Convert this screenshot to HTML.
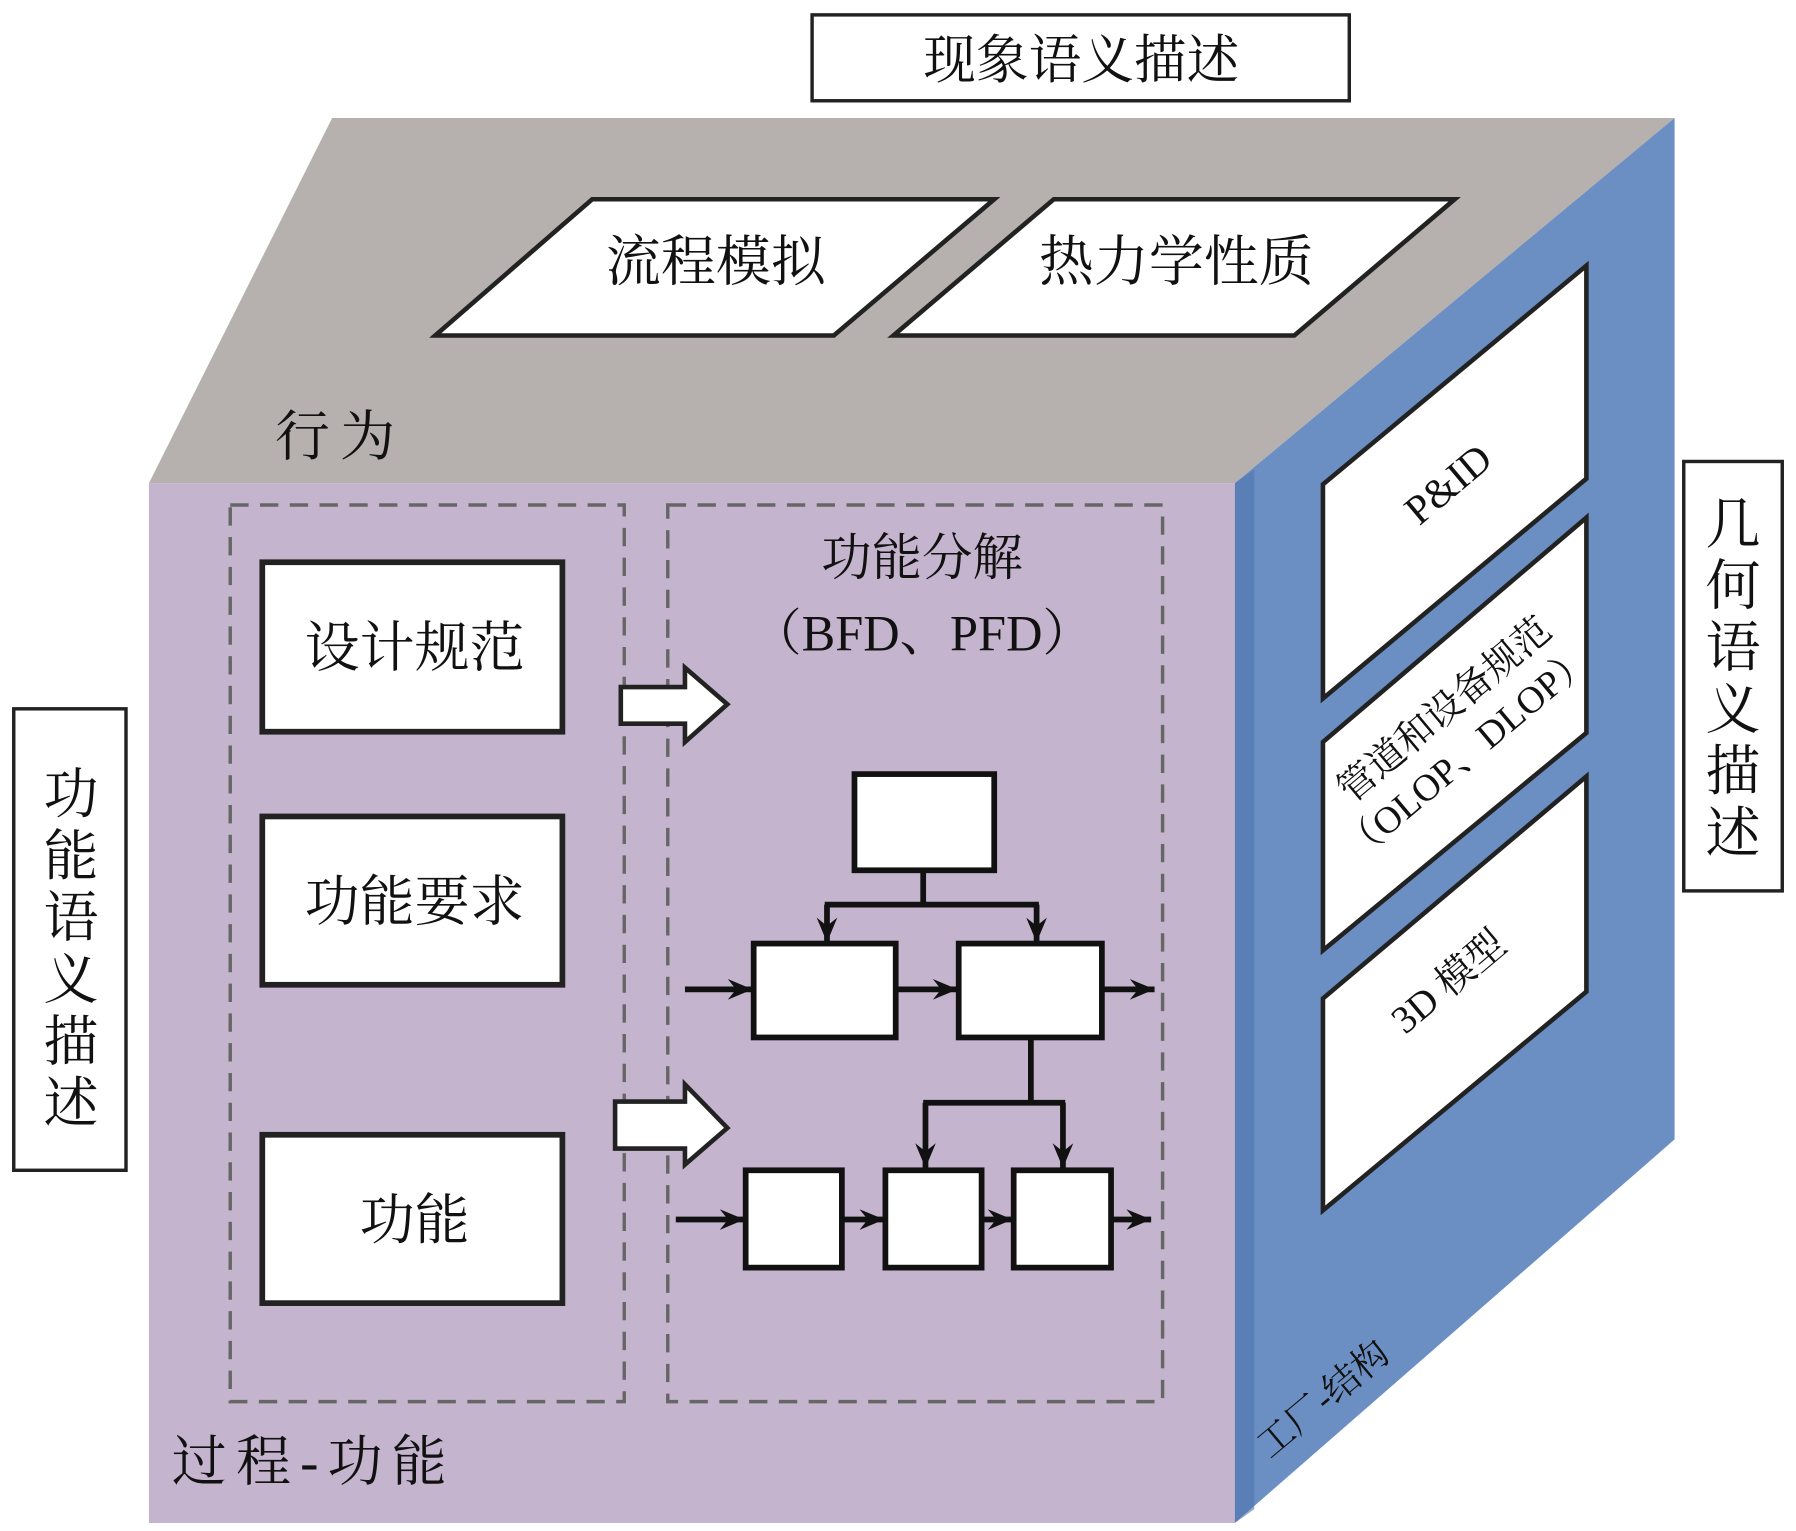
<!DOCTYPE html>
<html><head><meta charset="utf-8"><style>
html,body{margin:0;padding:0;background:#fff;}
svg{display:block;}
text{font-family:"Liberation Serif","Noto Serif CJK SC","Noto Sans CJK SC",serif;fill:#111;}
</style></head><body>
<svg width="1796" height="1531" viewBox="0 0 1568 1337" preserveAspectRatio="none" xmlns="http://www.w3.org/2000/svg">
<defs>
<marker id="ahs" viewBox="0 0 12 10" refX="12" refY="5" markerWidth="24" markerHeight="18" markerUnits="userSpaceOnUse" orient="auto">
<path d="M0,0 L12,5 L0,10 L4,5 Z" fill="#111"/></marker>
</defs>
<rect x="709" y="13" width="469" height="75" fill="#fff" stroke="#222" stroke-width="3"/>
<text x="944" y="68" font-size="46" text-anchor="middle">现象语义描述</text>
<polygon points="130,422 290,103 1462,103 1078,422" fill="#b6b1ae"/>
<polygon points="1078,422 1462,103 1462,995 1078,1330" fill="#6c8fc3"/>
<polygon points="1078,422 1095,410 1095,1318 1078,1330" fill="#4f74ad" opacity="0.6"/>
<rect x="130" y="422" width="948" height="908" fill="#c4b4cd"/>
<polygon points="517,174 868,174 728,293 380,293" fill="#fff" stroke="#222" stroke-width="4"/>
<text x="625" y="245" font-size="48" text-anchor="middle">流程模拟</text>
<polygon points="920,174 1270,174 1130,293 780,293" fill="#fff" stroke="#222" stroke-width="4"/>
<text x="1027" y="245" font-size="48" text-anchor="middle">热力学性质</text>
<text x="240" y="398" font-size="48" textLength="105">行为</text>
<rect x="201" y="441" width="344" height="783" fill="none" stroke="#666" stroke-width="3" stroke-dasharray="16,10"/>
<rect x="583" y="441" width="432" height="783" fill="none" stroke="#666" stroke-width="3" stroke-dasharray="16,10"/>
<rect x="229" y="491" width="262" height="148" fill="#fff" stroke="#222" stroke-width="5"/>
<text x="362" y="582" font-size="48" text-anchor="middle">设计规范</text>
<rect x="229" y="713" width="262" height="147" fill="#fff" stroke="#222" stroke-width="5"/>
<text x="362" y="804" font-size="48" text-anchor="middle">功能要求</text>
<rect x="229" y="991" width="262" height="147" fill="#fff" stroke="#222" stroke-width="5"/>
<text x="362" y="1082" font-size="48" text-anchor="middle">功能</text>
<text x="805" y="502" font-size="44" text-anchor="middle">功能分解</text>
<text x="805" y="568" font-size="44" text-anchor="middle">（BFD、PFD）</text>
<polygon points="542,600 598,600 598,583 635,615 598,648 598,632 542,632" fill="#fff" stroke="#222" stroke-width="4"/>
<polygon points="537,962 598,962 598,947 635,985 598,1017 598,1003 537,1003" fill="#fff" stroke="#222" stroke-width="4"/>
<g stroke="#111" stroke-width="5" fill="none">
<line x1="806" y1="760" x2="806" y2="790"/>
<polyline points="720,790 907,790"/>
<line x1="900" y1="906" x2="900" y2="963"/>
<polyline points="806,963 930,963"/>
</g>
<g stroke="#111" stroke-width="5">
<line x1="722" y1="790" x2="722" y2="823" marker-end="url(#ahs)"/>
<line x1="905" y1="790" x2="905" y2="823" marker-end="url(#ahs)"/>
<line x1="808" y1="963" x2="808" y2="1020" marker-end="url(#ahs)"/>
<line x1="928" y1="963" x2="928" y2="1020" marker-end="url(#ahs)"/>
<line x1="598" y1="864" x2="657" y2="864" marker-end="url(#ahs)"/>
<line x1="782" y1="864" x2="836" y2="864" marker-end="url(#ahs)"/>
<line x1="962" y1="864" x2="1008" y2="864" marker-end="url(#ahs)"/>
<line x1="590" y1="1065" x2="650" y2="1065" marker-end="url(#ahs)"/>
<line x1="735" y1="1065" x2="772" y2="1065" marker-end="url(#ahs)"/>
<line x1="857" y1="1065" x2="884" y2="1065" marker-end="url(#ahs)"/>
<line x1="970" y1="1065" x2="1005" y2="1065" marker-end="url(#ahs)"/>
</g>
<g fill="#fff" stroke="#111" stroke-width="5">
<rect x="746" y="676" width="122" height="84"/>
<rect x="658" y="824" width="124" height="82"/>
<rect x="837" y="824" width="125" height="82"/>
<rect x="651" y="1022" width="84" height="85"/>
<rect x="773" y="1022" width="84" height="85"/>
<rect x="885" y="1022" width="85" height="85"/>
</g>
<text x="150" y="1293" font-size="48" textLength="240">过程-功能</text>
<g fill="#fff" stroke="#222" stroke-width="4">
<polygon points="1155,423 1385,232 1385,418 1155,610"/>
<polygon points="1155,648 1385,452 1385,640 1155,830"/>
<polygon points="1155,872 1385,678 1385,866 1155,1057"/>
</g>
<text transform="translate(1272,432) rotate(-40)" font-size="36" text-anchor="middle">P&amp;ID</text>
<text transform="translate(1268,628) rotate(-40)" font-size="33" text-anchor="middle">管道和设备规范</text>
<text transform="translate(1288,666) rotate(-40)" font-size="33" text-anchor="middle">（OLOP、DLOP）</text>
<text transform="translate(1272,866) rotate(-40)" font-size="34" text-anchor="middle">3D 模型</text>
<text transform="translate(1162,1230) rotate(-40)" font-size="32" text-anchor="middle">工厂-结构</text>
<rect x="12" y="619" width="98" height="403" fill="#fff" stroke="#222" stroke-width="3"/>
<g font-size="48" text-anchor="middle">
<text x="62" y="710">功</text><text x="62" y="764">能</text><text x="62" y="818">语</text>
<text x="62" y="872">义</text><text x="62" y="926">描</text><text x="62" y="980">述</text>
</g>
<rect x="1470" y="403" width="86" height="375" fill="#fff" stroke="#222" stroke-width="3"/>
<g font-size="48" text-anchor="middle">
<text x="1513" y="474">几</text><text x="1513" y="528">何</text><text x="1513" y="582">语</text>
<text x="1513" y="636">义</text><text x="1513" y="690">描</text><text x="1513" y="744">述</text>
</g>
</svg>
</body></html>
